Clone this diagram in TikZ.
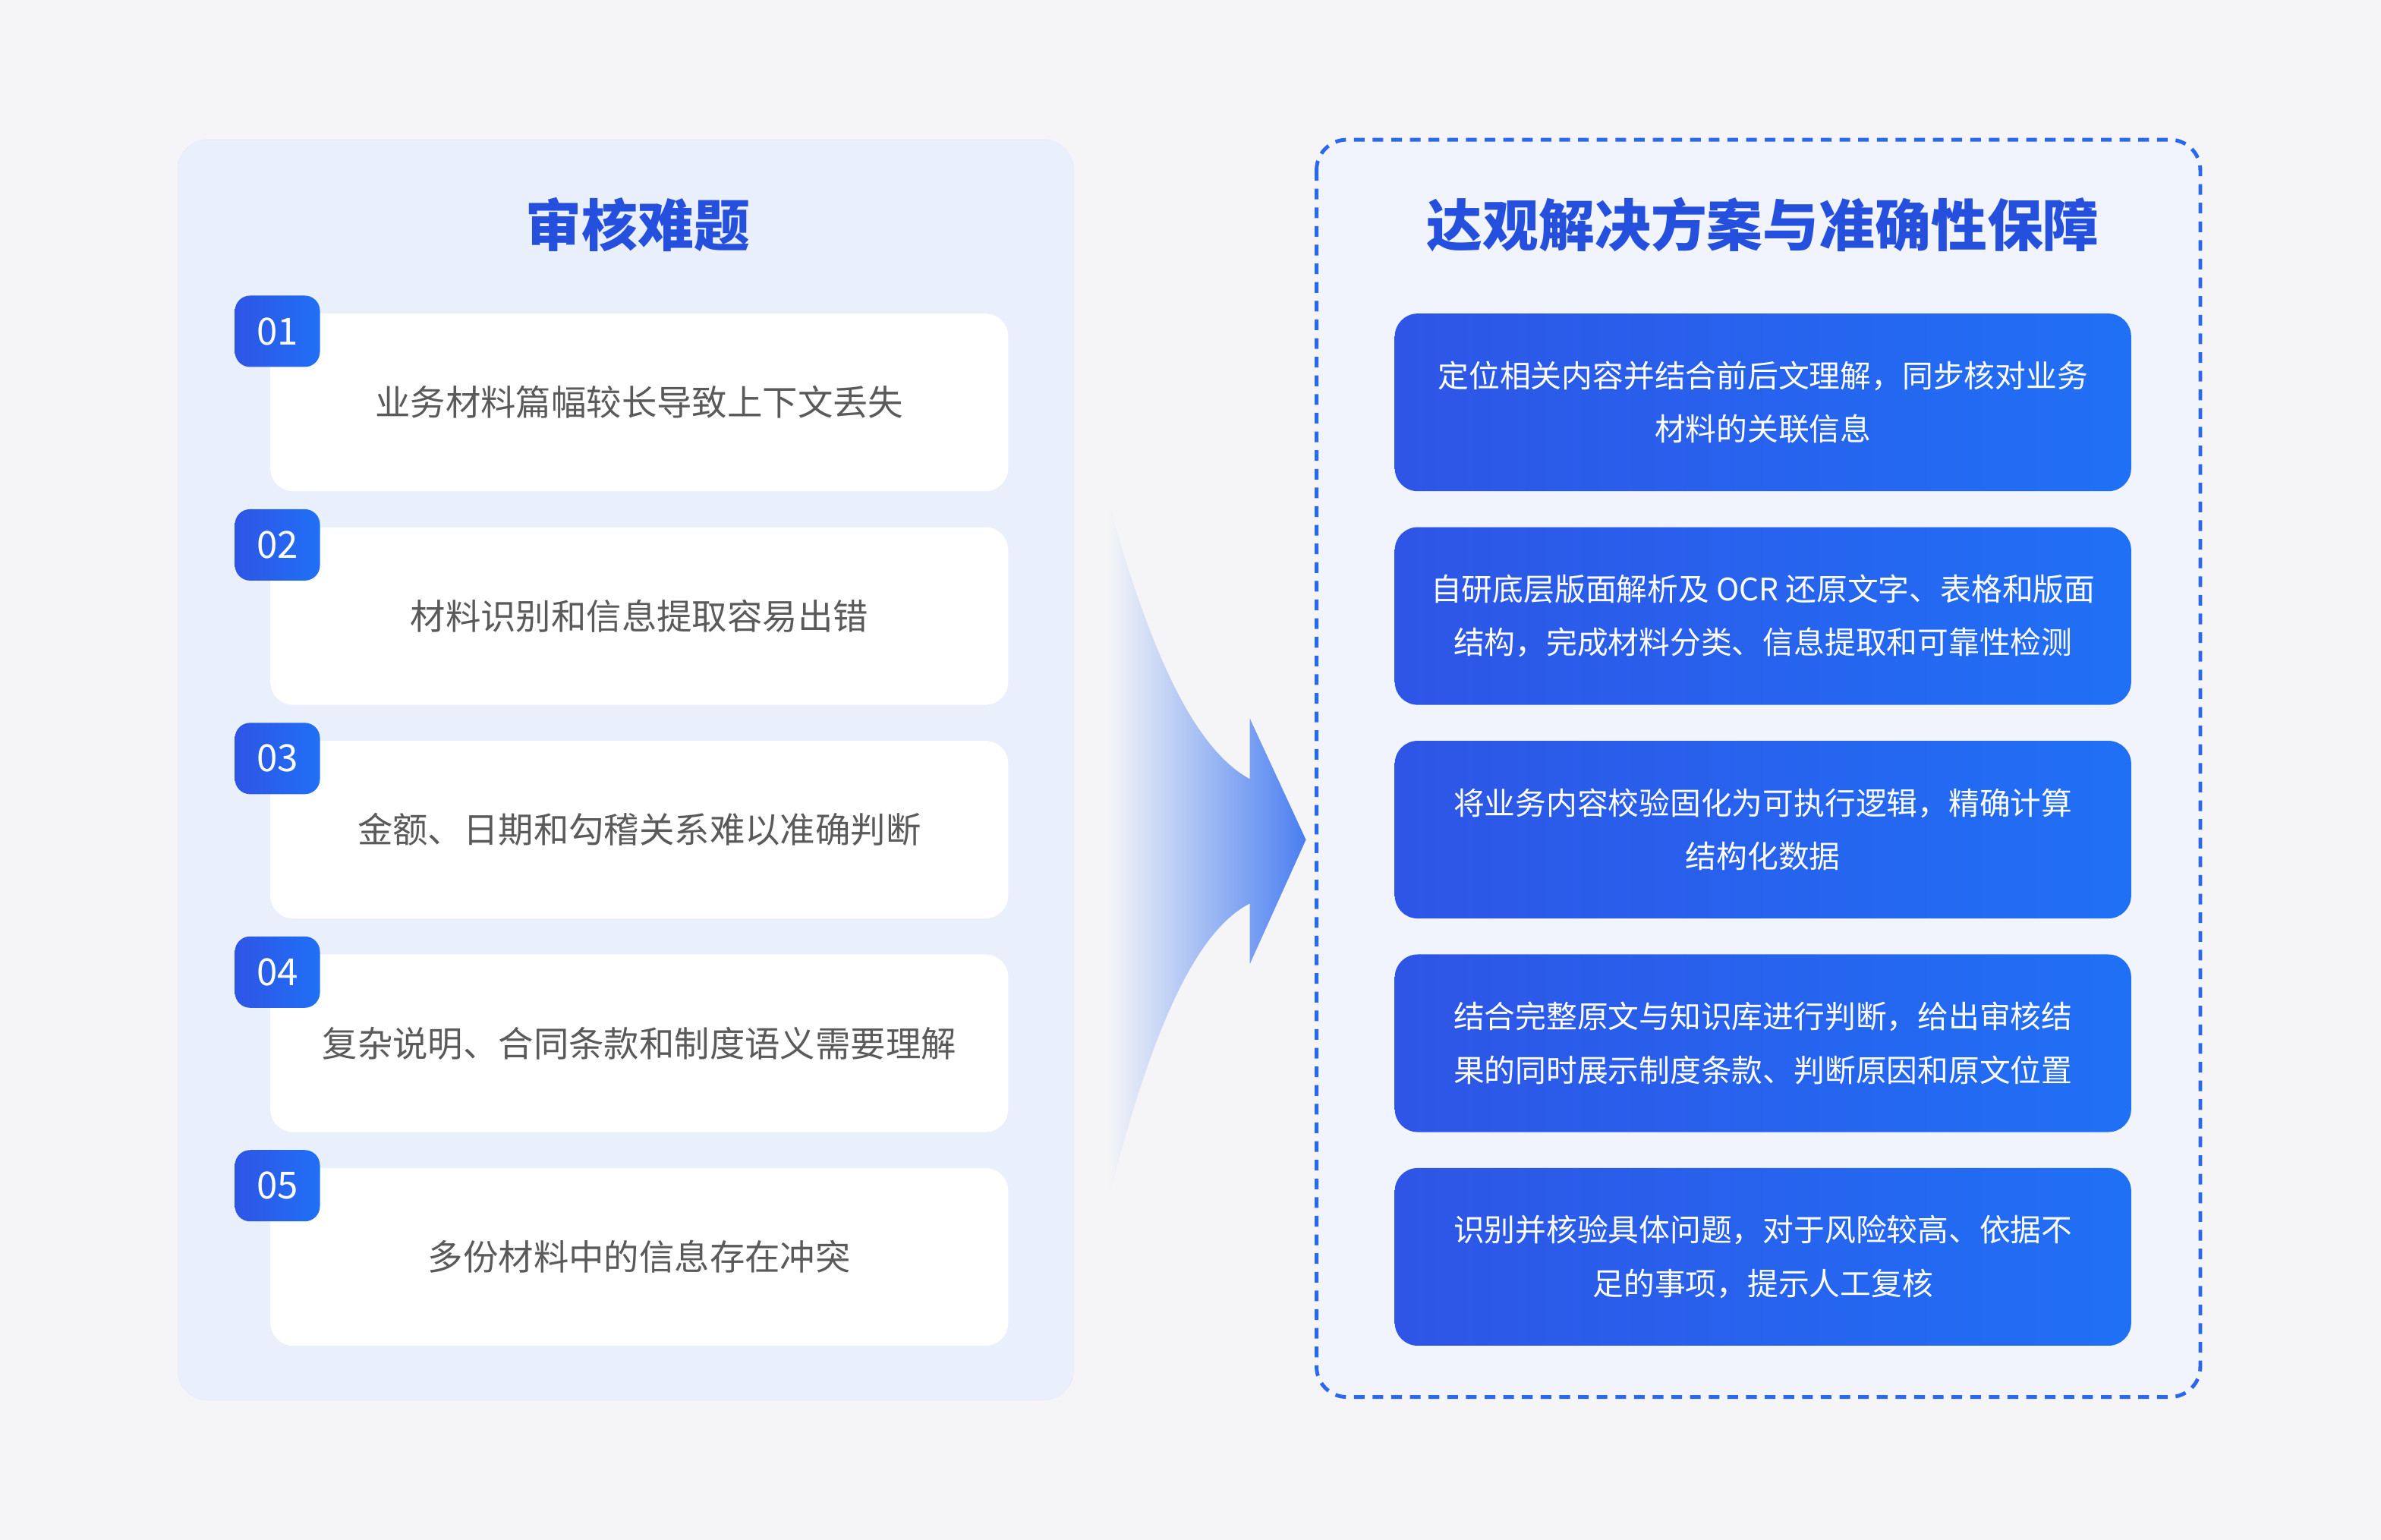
\documentclass[tikz,border=0pt]{standalone}
\usepackage{fontspec}
\setmainfont{Noto Sans CJK SC}
\usetikzlibrary{positioning,calc,shadings}

\definecolor{pagebg}{HTML}{F5F5F7}
\definecolor{leftbg}{HTML}{EAEFFC}
\definecolor{rightbg}{HTML}{F1F4FC}
\definecolor{titleblue}{HTML}{2550DE}
\definecolor{cardA}{HTML}{2E55E6}
\definecolor{cardB}{HTML}{2070F5}
\definecolor{dashblue}{HTML}{2A68EE}
\definecolor{textgray}{HTML}{5A5A5A}

\begin{document}
\begin{tikzpicture}[x=0.02cm,y=-0.02cm,
  title/.style={font=\fontsize{21}{25}\selectfont\bfseries,text=titleblue},
  issue card/.style={rounded corners=0.3cm,fill=white,minimum width=9.72cm,minimum height=2.34cm,
    font=\fontsize{13.2}{16}\selectfont,text=textgray,inner sep=0pt},
  num badge/.style={rounded corners=0.2cm,left color=cardA,right color=cardB,minimum width=1.12cm,
    minimum height=0.94cm,text=white,font=\fontsize{14}{16}\selectfont,inner sep=0pt},
  solve card/.style={rounded corners=0.3cm,left color=cardA,right color=cardB,minimum width=9.7cm,
    minimum height=2.34cm,text=white,font=\fontsize{11.6}{20}\selectfont,align=center,inner sep=0pt}]

\useasboundingbox (0,0) rectangle (1568,1014);
\fill[pagebg] (0,0) rectangle (1568,1014);

% left panel
\filldraw[fill=leftbg,draw=blue!8,rounded corners=0.4cm] (117,92) rectangle (707,922);
\node[title] (lefttitle) at (420,148) {审核难题};

\node[issue card] (p1) at (421,265) {业务材料篇幅较长导致上下文丢失};
\node[issue card,below=0.46cm of p1] (p2) {材料识别和信息提取容易出错};
\node[issue card,below=0.46cm of p2] (p3) {金额、日期和勾稽关系难以准确判断};
\node[issue card,below=0.46cm of p3] (p4) {复杂说明、合同条款和制度语义需要理解};
\node[issue card,below=0.46cm of p4] (p5) {多份材料中的信息存在冲突};
\foreach \i in {1,...,5}
  \node[num badge] (n\i) at ($(p\i.north west)+(0.1cm,-0.24cm)$) {0\i};

% arrow
\shade[left color=pagebg,right color=dashblue!85]
  (730,330) .. controls (760,440) and (790,495) .. (823,513) -- (823,473) -- (860,553)
  -- (823,635) -- (823,595) .. controls (790,612) and (760,670) .. (730,790) -- cycle;

% right panel
\filldraw[fill=rightbg,draw=dashblue,line width=1.4pt,dash pattern=on 4pt off 3pt,rounded corners=0.4cm]
  (867,92) rectangle (1449,920);
\node[title] (righttitle) at (1161,148) {达观解决方案与准确性保障};

\node[solve card] (s1) at (1161,265) {定位相关内容并结合前后文理解，同步核对业务\\材料的关联信息};
\node[solve card,below=0.46cm of s1] (s2) {自研底层版面解析及 OCR 还原文字、表格和版面\\结构，完成材料分类、信息提取和可靠性检测};
\node[solve card,below=0.46cm of s2] (s3) {将业务内容校验固化为可执行逻辑，精确计算\\结构化数据};
\node[solve card,below=0.46cm of s3] (s4) {结合完整原文与知识库进行判断，给出审核结\\果的同时展示制度条款、判断原因和原文位置};
\node[solve card,below=0.46cm of s4] (s5) {识别并核验具体问题，对于风险较高、依据不\\足的事项，提示人工复核};
\end{tikzpicture}
\end{document}
